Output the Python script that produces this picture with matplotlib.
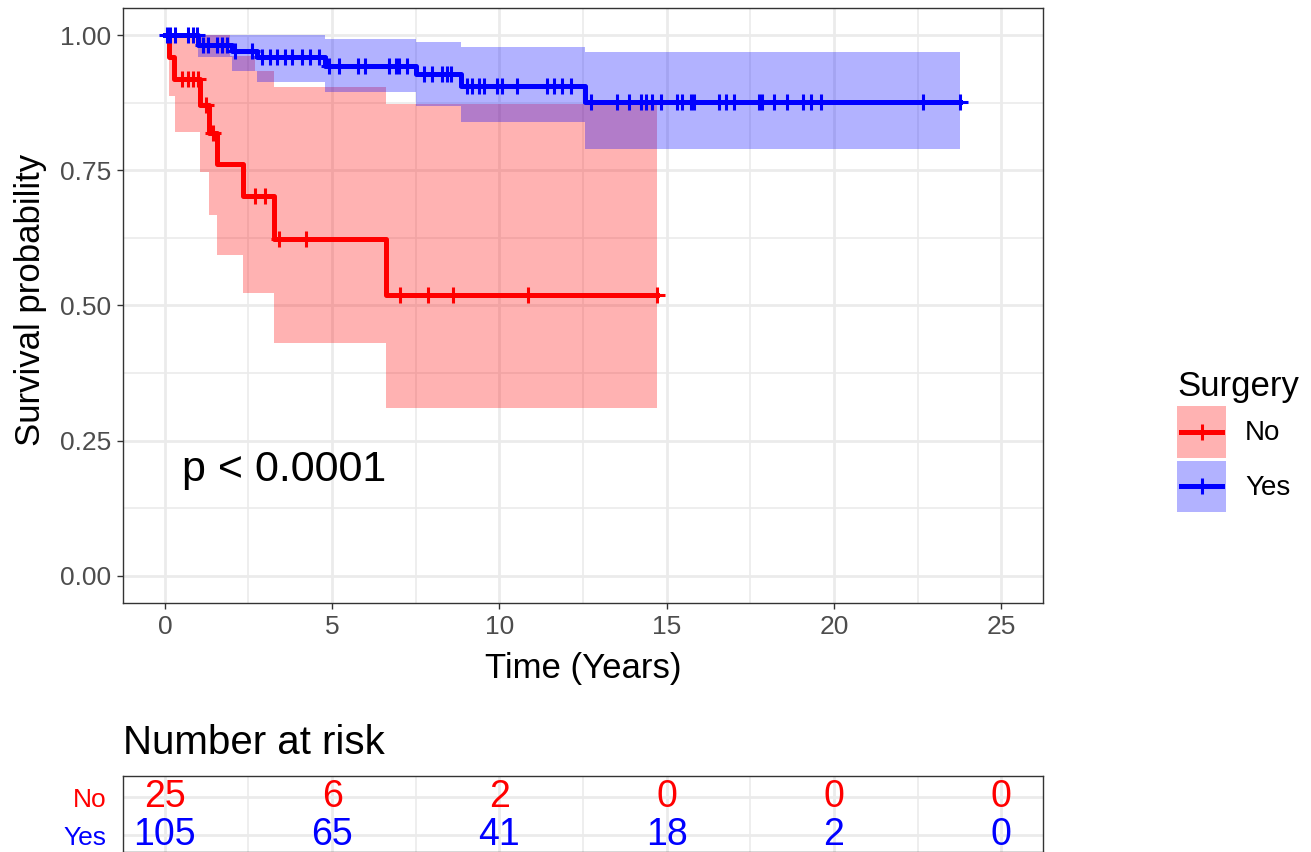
import numpy as np
import matplotlib.pyplot as plt
from matplotlib.patches import Patch, Rectangle
from matplotlib.lines import Line2D
from matplotlib.legend_handler import HandlerBase

plt.rcParams['font.family'] = ['Liberation Sans', 'DejaVu Sans']

RED = '#FF0000'
BLUE = '#0000FF'

# --- Surgery = No : survival steps, confidence band and censor times (years)
no_time = [0, 0.12, 0.28, 1.05, 1.32, 1.55, 2.33, 3.25, 6.6, 14.7]
no_surv = [1.0, 0.96, 0.918, 0.871, 0.819, 0.761, 0.702, 0.623, 0.520, 0.520]
no_band_time = [0.12, 0.3, 1.05, 1.32, 1.55, 1.95, 2.33, 2.7, 3.25, 6.6, 14.7]
no_upper = [1.0, 1.0, 1.0, 1.0, 1.0, 0.961, 0.961, 0.933, 0.904, 0.872, 0.872]
no_lower = [0.887, 0.82, 0.746, 0.668, 0.593, 0.593, 0.524, 0.524, 0.430, 0.311, 0.311]
no_censor = [0.5, 0.69, 0.84, 0.99, 1.22, 1.45, 2.69, 2.98, 3.40, 4.21,
             7.04, 7.88, 8.62, 10.86, 14.7]

# --- Surgery = Yes
yes_time = [0, 1.0, 2.0, 2.75, 4.8, 7.5, 8.85, 12.55, 23.78]
yes_surv = [1.0, 0.982, 0.971, 0.959, 0.943, 0.928, 0.906, 0.876, 0.876]
yes_band_time = [1.0, 2.0, 2.75, 4.8, 7.5, 8.85, 12.55, 23.78]
yes_upper = [1.0, 1.0, 1.0, 0.993, 0.987, 0.978, 0.968, 0.968]
yes_lower = [0.959, 0.933, 0.914, 0.894, 0.868, 0.839, 0.789, 0.789]
yes_censor = [0.06, 0.15, 0.3, 0.69, 0.84, 0.95,
              1.13, 1.28, 1.55, 1.70, 1.85, 2.09, 2.60,
              2.89, 3.13, 3.34, 3.58, 3.79, 4.09, 4.33, 4.62,
              4.92, 5.22, 5.76, 5.97, 6.71, 6.92, 7.01, 7.25,
              7.76, 8.0, 8.29, 8.44, 8.56,
              9.04, 9.19, 9.40, 9.55, 9.93, 10.08, 10.53, 11.43, 11.63, 11.87, 12.14,
              12.74, 13.51, 13.87, 14.23, 14.38, 14.56, 14.83, 15.30, 15.45, 15.72,
              15.81, 16.56, 16.77, 17.0, 17.75, 17.84, 18.2, 18.59, 19.09, 19.33,
              19.6, 22.67, 23.78]

# --- number at risk table
risk_times = [0, 5, 10, 15, 20, 25]
no_risk = [25, 6, 2, 0, 0, 0]
yes_risk = [105, 65, 41, 18, 2, 0]


def surv_at(times, surv, t):
    idx = np.searchsorted(times, t, side='right') - 1
    return np.asarray(surv)[idx]


class KeyHandler(HandlerBase):
    # ggplot-like key: shaded square with a centred line and "+"
    def create_artists(self, legend, orig_handle, xdescent, ydescent,
                       width, height, fontsize, trans):
        col = orig_handle.get_label()
        x0, y0 = -xdescent, -ydescent
        yc = y0 + height / 2
        rect = Rectangle((x0, y0), width, height, facecolor=col, alpha=0.3,
                         edgecolor='none', transform=trans)
        line = Line2D([x0 + width * 0.08, x0 + width * 0.92], [yc, yc],
                      color=col, lw=3.6, transform=trans)
        mark = Line2D([x0 + width / 2], [yc], marker='+', ms=11, mew=2.2,
                      color=col, transform=trans)
        return [rect, line, mark]


W, H = 1311, 852
fig = plt.figure(figsize=(W / 100, H / 100), dpi=100)
ax = fig.add_axes([123 / W, 1 - 603 / H, 920 / W, 595 / H])

groups = [
    ('No', RED, no_time, no_surv, no_band_time, no_upper, no_lower, no_censor),
    ('Yes', BLUE, yes_time, yes_surv, yes_band_time, yes_upper, yes_lower, yes_censor),
]

handles = []
for name, col, t, s, bt, up, lo, cen in groups:
    ax.fill_between(bt, lo, up, step='post', color=col, alpha=0.3, lw=0, zorder=2)
for name, col, t, s, bt, up, lo, cen in groups:
    ax.step(t, s, where='post', color=col, lw=3.6, zorder=3)
    ax.plot(cen, surv_at(t, s, cen), ls='none', marker='+', ms=11, mew=2.2,
            color=col, zorder=4)
    handles.append(Patch(label=col))

ax.text(0.5, 0.195, 'p < 0.0001', fontsize=31, va='center', ha='left')

ax.set_xlim(-1.25, 26.25)
ax.set_ylim(-0.05, 1.05)
ax.set_xticks(risk_times)
ax.set_xticks([2.5, 7.5, 12.5, 17.5, 22.5], minor=True)
ax.set_yticks([0, 0.25, 0.5, 0.75, 1.0])
ax.set_yticklabels(['0.00', '0.25', '0.50', '0.75', '1.00'])
ax.set_yticks([0.125, 0.375, 0.625, 0.875], minor=True)
ax.grid(which='major', color='#EBEBEB', lw=2.0, zorder=0)
ax.grid(which='minor', color='#EBEBEB', lw=1.2, zorder=0)
ax.set_axisbelow(True)
ax.tick_params(which='major', length=4.3, width=1, color='#333333',
               labelsize=19, labelcolor='#4D4D4D', pad=4)
ax.tick_params(which='minor', length=0)
for sp in ax.spines.values():
    sp.set_color('#333333')
    sp.set_linewidth(1.0)
ax.set_xlabel('Time (Years)', fontsize=25)
ax.set_ylabel('Survival probability', fontsize=25)
ax.xaxis.set_label_coords(0.5, -0.082)
ax.yaxis.set_label_coords(-0.083, 0.51)

leg = fig.legend(handles, ['No', 'Yes'], title='Surgery', loc='center left',
                 bbox_to_anchor=(1177 / W, 1 - 441 / H), frameon=False,
                 fontsize=20, title_fontsize=25, handlelength=1.77, handleheight=2.45,
                 labelspacing=0.12, handletextpad=0.68, borderpad=0,
                 borderaxespad=0, alignment='left',
                 handler_map={Patch: KeyHandler()})

# risk table
tab = fig.add_axes([123 / W, 0, 920 / W, 76 / H])
tab.set_xlim(-1.25, 26.25)
tab.set_ylim(0.553, 2.553)
for i, t in enumerate(risk_times):
    tab.text(t, 2, str(no_risk[i]), color=RED, fontsize=27, ha='center', va='center')
    tab.text(t, 1, str(yes_risk[i]), color=BLUE, fontsize=27, ha='center', va='center')
tab.set_yticks([1, 2])
tab.set_yticklabels(['Yes', 'No'])
for lab, col in zip(tab.get_yticklabels(), [BLUE, RED]):
    lab.set_color(col)
tab.set_xticks(risk_times)
tab.set_xticks([2.5, 7.5, 12.5, 17.5, 22.5], minor=True)
tab.set_xticklabels([])
tab.grid(which='major', color='#EBEBEB', lw=2.0, zorder=0)
tab.grid(which='minor', axis='x', color='#EBEBEB', lw=1.2, zorder=0)
tab.tick_params(which='both', length=0, labelsize=19, pad=12)
for sp in tab.spines.values():
    sp.set_color('#333333')
    sp.set_linewidth(1.0)

fig.text(123 / W, 1 - 754 / H, 'Number at risk', fontsize=29, va='baseline', ha='left')

fig.savefig('out.png', dpi=100)
